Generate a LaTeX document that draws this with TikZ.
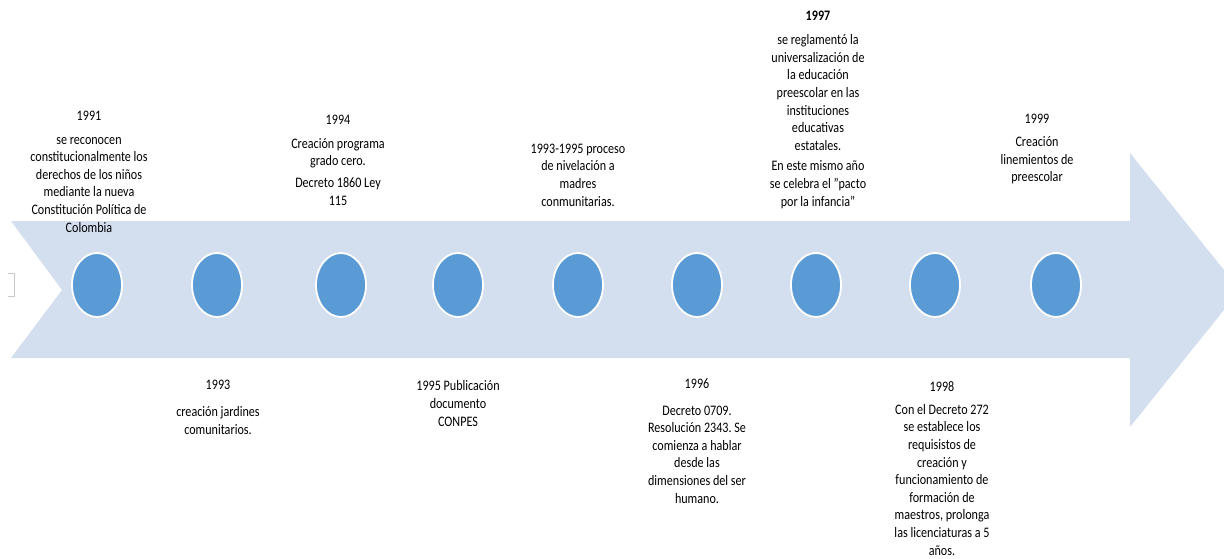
\documentclass[tikz,border=0pt]{standalone}
\usepackage{fontspec}
\usetikzlibrary{shapes.geometric}
\setmainfont{Carlito}[FakeStretch=0.835]
\frenchspacing
\definecolor{arrowfill}{HTML}{D3DEEF}
\definecolor{dotfill}{HTML}{5B9BD5}
\definecolor{tickgray}{HTML}{C8C8C8}
\begin{document}
\begin{tikzpicture}[x=1pt,y=-1pt,
  dot/.style={ellipse, draw=white, line width=1.8pt, fill=dotfill,
              minimum width=50pt, minimum height=64pt, inner sep=0},
  % anchored on the baseline of the last line of each note
  note/.style={align=center, inner sep=0, anchor=base,
                font=\fontsize{14.5}{17.6}\selectfont}]
\useasboundingbox (0,0) rectangle (1224,559);
% timeline arrow
\fill[arrowfill] (11,221) -- (1130,221) -- (1130,153) -- (1240,290)
  -- (1130,427) -- (1130,358) -- (11,358) -- (62,290) -- cycle;
% small bracket at the left edge
\draw[tickgray, line width=0.8pt] (8,273) -- (14,273) -- (14,296) -- (8,296);
% milestones
\foreach \n/\x in {1/97,2/217,3/341,4/458,5/578,6/697,7/816,8/935,9/1056}
  \node[dot] (c\n) at (\x,285) {};
% texts above the arrow
\node[note] (t1) at (89,232) {1991\\[6pt]se reconocen\\constitucionalmente los\\derechos de los niños\\mediante la nueva\\Constitución Política de\\Colombia};
\node[note] (t3) at (338,205) {1994\\[6pt]Creación programa\\grado cero.\\[4pt]Decreto 1860 Ley\\115};
\node[note] (t5) at (578,206) {1993-1995 proceso\\de nivelación a\\madres\\conmunitarias.};
\node[note] (t7) at (818,206) {\textbf{1997}\\[7pt]se reglamentó la\\universalización de\\la educación\\preescolar en las\\instituciones\\educativas\\estatales.\\[3pt]En este mismo año\\se celebra el "pacto\\por la infancia"};
\node[note] (t9) at (1037,182) {1999\\[6pt]Creación\\linemientos de\\preescolar};
% texts below the arrow
\node[note] (t2) at (218,434) {1993\\[9pt]creación jardines\\comunitarios.};
\node[note] (t4) at (458,426) {1995 Publicación\\documento\\CONPES};
\node[note] (t6) at (697,503) {1996\\[9pt]Decreto 0709.\\Resolución 2343. Se\\comienza a hablar\\desde las\\dimensiones del ser\\humano.};
\node[note] (t8) at (942,555) {1998\\[5pt]Con el Decreto 272\\se establece los\\requisistos de\\creación y\\funcionamiento de\\formación de\\maestros, prolonga\\las licenciaturas a 5\\años.};
\end{tikzpicture}
\end{document}
